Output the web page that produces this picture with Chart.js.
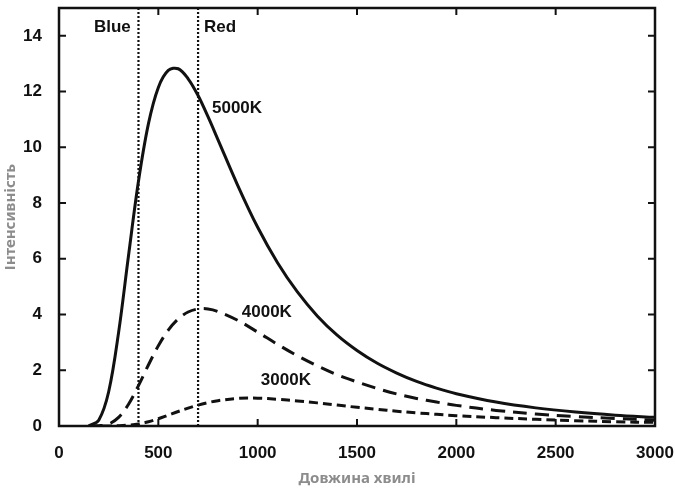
<!DOCTYPE html>
<html>
<head>
<meta charset="utf-8">
<script src="https://cdn.jsdelivr.net/npm/chart.js@4"></script>
<style>
  body { margin: 0; background: #fff; }
  canvas { display: block; }
</style>
</head>
<body>
<canvas id="myChart" width="675" height="489"></canvas>
<script>
// wavelength, nm
wavelengths = [150, 200, 250, 300, 350, 400, 450, 500, 550, 600, 650, 700, 750, 800,
  900, 1000, 1100, 1200, 1300, 1400, 1500, 1600, 1700, 1800, 1900, 2000,
  2200, 2400, 2600, 2800, 3000]

// intensity
values5000 = [0.01, 0.21, 1.23, 3.36, 6.12, 8.78, 10.84, 12.15, 12.76, 12.82, 12.46, 11.86, 11.10, 10.28,
  8.63, 7.13, 5.86, 4.81, 3.95, 3.26, 2.71, 2.26, 1.90, 1.60, 1.36, 1.16,
  0.86, 0.65, 0.50, 0.39, 0.31]
values4000 = [0, 0.01, 0.07, 0.31, 0.78, 1.45, 2.19, 2.88, 3.44, 3.84, 4.09, 4.20, 4.20, 4.11,
  3.79, 3.37, 2.93, 2.52, 2.16, 1.84, 1.58, 1.35, 1.15, 0.99, 0.86, 0.74,
  0.56, 0.43, 0.34, 0.27, 0.21]
values3000 = [0, 0, 0, 0.01, 0.03, 0.07, 0.15, 0.26, 0.39, 0.52, 0.64, 0.75, 0.84, 0.91,
  0.99, 1.00, 0.96, 0.90, 0.83, 0.75, 0.67, 0.60, 0.53, 0.47, 0.42, 0.37,
  0.30, 0.24, 0.19, 0.15, 0.13]

// visible spectrum edges
blueEdge = 400
redEdge = 700

// text labels: [text, wavelength, intensity]
labels = [
  ['Blue', 176, 14.32],
  ['Red', 730, 14.32],
  ['5000K', 770, 11.41],
  ['4000K', 920, 4.09],
  ['3000K', 1016, 1.65]
]

function pts(ys) {
  return wavelengths.map(function(x, i) { return {x: x, y: ys[i]} })
}

var framePlugin = {
  id: 'frame',
  afterDatasetsDraw: function(chart) {
    var ctx = chart.ctx
    var a = chart.chartArea
    var xs = chart.scales.x, ys = chart.scales.y
    ctx.save()
    ctx.strokeStyle = '#111'
    ctx.lineWidth = 2.5
    ctx.strokeRect(a.left, a.top, a.right - a.left, a.bottom - a.top)
    ctx.lineWidth = 2
    ctx.beginPath()
    xs.ticks.forEach(function(t) {
      var px = xs.getPixelForValue(t.value)
      ctx.moveTo(px, a.bottom); ctx.lineTo(px, a.bottom - 7)
      ctx.moveTo(px, a.top); ctx.lineTo(px, a.top + 7)
    })
    ys.ticks.forEach(function(t) {
      var py = ys.getPixelForValue(t.value)
      ctx.moveTo(a.left, py); ctx.lineTo(a.left + 7, py)
      ctx.moveTo(a.right, py); ctx.lineTo(a.right - 7, py)
    })
    ctx.stroke()

    ctx.fillStyle = '#111'
    ctx.font = 'bold 17px "Liberation Sans", Arial, sans-serif'
    ctx.textAlign = 'left'
    ctx.textBaseline = 'middle'
    labels.forEach(function(l) {
      ctx.fillText(l[0], xs.getPixelForValue(l[1]), ys.getPixelForValue(l[2]))
    })
    ctx.restore()
  }
}

document.addEventListener('DOMContentLoaded', function() {
  var tickFont = {family: '"Liberation Sans", Arial, sans-serif', size: 17, weight: 'bold'}
  var titleFont = {family: '"Noto Sans", sans-serif', size: 15, weight: 'bold'}
  var plain = function(v) { return String(v) }
  var ctx = document.getElementById('myChart').getContext('2d')
  var myChart = new Chart(ctx, {
    type: 'line',
    data: {
      datasets: [
        {label: '5000K', data: pts(values5000), borderColor: '#111', borderWidth: 3,
          pointRadius: 0, tension: 0.35},
        {label: '4000K', data: pts(values4000), borderColor: '#111', borderWidth: 3,
          borderDash: [14, 8], pointRadius: 0, tension: 0.35},
        {label: '3000K', data: pts(values3000), borderColor: '#111', borderWidth: 3,
          borderDash: [9, 5], pointRadius: 0, tension: 0.35},
        {label: 'Blue', data: [{x: blueEdge, y: 0}, {x: blueEdge, y: 15}], borderColor: '#111',
          borderWidth: 2.2, borderDash: [2, 2], pointRadius: 0},
        {label: 'Red', data: [{x: redEdge, y: 0}, {x: redEdge, y: 15}], borderColor: '#111',
          borderWidth: 2.2, borderDash: [2, 2], pointRadius: 0}
      ]
    },
    options: {
      responsive: false,
      animation: false,
      layout: {padding: {top: 8, right: 20, left: 0, bottom: 0}},
      plugins: {legend: {display: false}, tooltip: {enabled: false}},
      scales: {
        x: {
          type: 'linear', min: 0, max: 3000,
          ticks: {stepSize: 500, font: tickFont, color: '#111', padding: 9, maxRotation: 0,
            callback: plain},
          grid: {display: false}, border: {display: false},
          title: {display: true, text: 'Довжина хвилі', color: '#8c8c8c', font: titleFont,
            padding: {top: 0, bottom: 1}},
          afterFit: function(s) { s.height = 63; s.paddingLeft = 0; s.paddingRight = 0 }
        },
        y: {
          min: 0, max: 15,
          ticks: {stepSize: 2, font: tickFont, color: '#111', padding: 9, callback: plain},
          grid: {display: false}, border: {display: false},
          title: {display: true, text: 'Інтенсивність', color: '#8c8c8c', font: titleFont,
            padding: {top: 2, bottom: 0}},
          afterBuildTicks: function(s) { s.ticks = s.ticks.filter(function(t) { return t.value <= 14 }) },
          afterFit: function(s) { s.width = 59; s.paddingTop = 0; s.paddingBottom = 0 }
        }
      }
    },
    plugins: [framePlugin]
  })
})
</script>
</body>
</html>
